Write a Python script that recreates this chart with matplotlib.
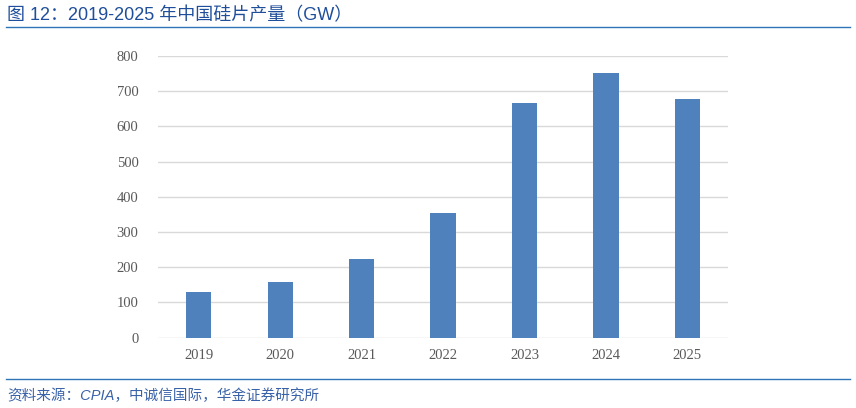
import matplotlib
matplotlib.use("Agg")
import matplotlib.pyplot as plt
from matplotlib.lines import Line2D

# data
years = ["2019", "2020", "2021", "2022", "2023", "2024", "2025"]
output_gw = [131, 158, 223, 353, 666, 753, 679]
y_ticks = [0, 100, 200, 300, 400, 500, 600, 700, 800]

title_text = "图 12：2019-2025 年中国硅片产量（GW）"
source_text = "资料来源：CPIA，中诚信国际，华金证券研究所"

plt.rcParams['font.family'] = ['Liberation Sans', 'Noto Sans CJK SC', 'DejaVu Sans']

fig = plt.figure(figsize=(8.56, 4.08), dpi=100)
ax = fig.add_axes([0.1846, 0.1723, 0.6659, 0.6904])

ax.bar(range(len(years)), output_gw, width=0.31, color='#4F81BD', zorder=3)
ax.set_xlim(-0.5, len(years) - 0.5)
ax.set_ylim(0, 800)
ax.set_yticks(y_ticks)
ax.set_xticks(range(len(years)))
ax.set_xticklabels(years)
ax.grid(axis='y', color='#D9D9D9', linewidth=1, zorder=0)
for s in ax.spines.values():
    s.set_visible(False)
ax.tick_params(length=0, labelsize=10.5, labelcolor='#595959', pad=8)
for lab in ax.get_xticklabels() + ax.get_yticklabels():
    lab.set_family('Liberation Serif')
ax.tick_params(axis='y', pad=14)

# header and footer
fig.text(0.008, 0.962, title_text, fontsize=13, color='#1F4E9A', va='center', ha='left')
fig.add_artist(Line2D([0.007, 0.993], [0.933, 0.933], color='#2E75B6', linewidth=1.0))
fig.add_artist(Line2D([0.007, 0.993], [0.071, 0.071], color='#2E75B6', linewidth=1.0))
fig.text(0.008, 0.03, source_text, fontsize=10.5, color='#3A62A8', va='center', ha='left',
         style='italic')

fig.savefig("out.png", dpi=100)
